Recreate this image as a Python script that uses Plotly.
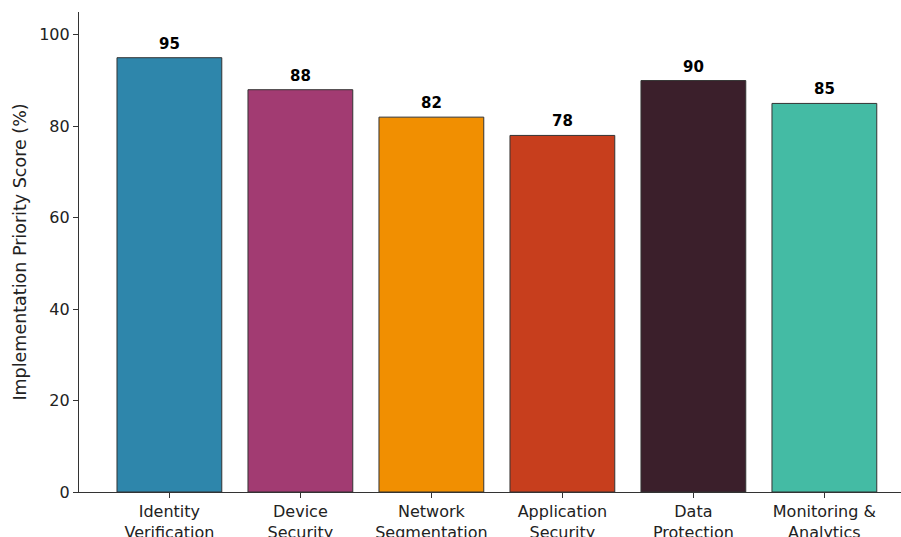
import plotly.graph_objects as go

categories = ["Identity<br>Verification", "Device<br>Security", "Network<br>Segmentation",
              "Application<br>Security", "Data<br>Protection", "Monitoring &<br>Analytics"]
scores = [95, 88, 82, 78, 90, 85]
colors = ["#2E86AB", "#A23B72", "#F18F01", "#C73E1D", "#3B1F2B", "#44BBA4"]
y_ticks = [0, 20, 40, 60, 80, 100]

xs = list(range(len(categories)))

fig = go.Figure()
fig.add_trace(go.Bar(
    x=xs, y=scores, width=0.8,
    marker=dict(color=colors, line=dict(color="#333333", width=1)),
    hoverinfo="skip",
))

# value labels above each bar
for x, v in zip(xs, scores):
    fig.add_annotation(x=x, y=v, text=f"<b>{v}</b>", showarrow=False,
                       yanchor="bottom", yshift=3,
                       font=dict(family="DejaVu Sans", size=15, color="black"))

fig.update_layout(
    width=901, height=537,
    margin=dict(l=79, r=0, t=12, b=45),
    plot_bgcolor="white", paper_bgcolor="white",
    showlegend=False,
    font=dict(family="DejaVu Sans", size=16, color="#222222"),
)
fig.update_xaxes(
    range=[-0.69, 5.585], tickmode="array", tickvals=xs, ticktext=categories,
    showgrid=False, zeroline=False, showline=True, linecolor="#333333", linewidth=1.2,
    ticks="outside", ticklen=5, tickcolor="#333333", tickfont=dict(size=16),
    automargin=False,
)
fig.update_yaxes(
    range=[0, 105], tickmode="array", tickvals=y_ticks,
    showgrid=False, zeroline=False, showline=True, linecolor="#333333", linewidth=1.2,
    ticks="outside", ticklen=5, tickcolor="#333333", tickfont=dict(size=16),
    title=dict(text="Implementation Priority Score (%)", font=dict(size=17.5), standoff=8),
    automargin=False,
)

fig.write_html("out.html")
